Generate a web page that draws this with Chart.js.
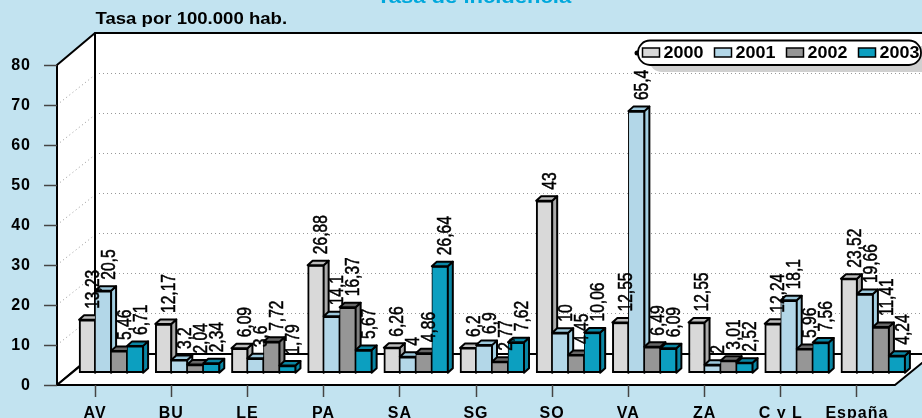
<!DOCTYPE html>
<html lang="es">
<head>
<meta charset="UTF-8">
<title>Tasa de incidencia</title>
<script src="https://cdn.jsdelivr.net/npm/chart.js"></script>
<style>
    html, body { margin: 0; padding: 0; background: #c2e3f0; overflow: hidden; }
    canvas { display: block; }
</style>
</head>
<body>
<canvas id="chart" width="922" height="418"></canvas>
<script>
const categories = ['AV', 'BU', 'LE', 'PA', 'SA', 'SG', 'SO', 'VA', 'ZA', 'C y L', 'España'];
const years = ['2000', '2001', '2002', '2003'];
const values2000 = [13.23, 12.17, 6.09, 26.88, 6.26, 6.2, 43, 12.55, 12.55, 12.24, 23.52];
const values2001 = [20.5, 3.2, 3.6, 14.1, 4, 6.9, 10, 65.4, 2, 18.1, 19.66];
const values2002 = [5.46, 2.04, 7.72, 16.37, 4.86, 2.77, 4.45, 6.49, 3.01, 5.96, 11.41];
const values2003 = [6.71, 2.34, 1.79, 5.67, 26.64, 7.62, 10.06, 6.09, 2.52, 7.56, 4.24];

const frontColors = ['#d9d9d9', '#b3d7e8', '#969696', '#0c9fc0'];
const topColors = ['#bdbdbd', '#9cc8dc', '#666666', '#0a86a4'];
const sideColors = ['#ababab', '#a3cfe2', '#808080', '#0a86a4'];

const FONT = '"Liberation Sans", Arial, sans-serif';
const WALL_DX = 38, WALL_DY = 32;   // fondo del grafico 3D
const BAR_DX = 5, BAR_DY = 4.5;     // profundidad de cada barra
const BAR_SHIFT = 16;               // los grupos no estan centrados en la marca
const BAR_LIFT = 3.07;              // las barras arrancan sobre el suelo, no en el eje

function stretchedText(ctx, text, x, y, font, color, stretch, align) {
    ctx.save();
    ctx.letterSpacing = '0px';
    ctx.font = font;
    ctx.fillStyle = color;
    ctx.textAlign = align || 'left';
    ctx.textBaseline = 'alphabetic';
    ctx.translate(x, y);
    ctx.scale(stretch, 1);
    ctx.fillText(text, 0, 0);
    ctx.restore();
}

function poly(ctx, pts, fill) {
    ctx.beginPath();
    pts.forEach((p, i) => i ? ctx.lineTo(p[0], p[1]) : ctx.moveTo(p[0], p[1]));
    ctx.closePath();
    if (fill) { ctx.fillStyle = fill; ctx.fill(); }
    ctx.stroke();
}

// Paredes, suelo y rejilla punteada
const wallsPlugin = {
    id: 'walls',
    beforeDraw(chart) {
        const ctx = chart.ctx, a = chart.chartArea, y = chart.scales.y;
        ctx.letterSpacing = '1px';
        ctx.save();
        ctx.letterSpacing = '0px';
        ctx.strokeStyle = '#000';
        ctx.lineWidth = 2;
        ctx.lineJoin = 'round';
        const bx = a.left + WALL_DX, by = a.bottom - WALL_DY, ty = a.top - WALL_DY;
        poly(ctx, [[bx, ty], [a.right + WALL_DX, ty], [a.right + WALL_DX, by + 1], [bx, by + 1]], '#fff');
        poly(ctx, [[a.left, a.top], [bx, ty], [bx, by], [a.left, a.bottom]], '#fff');
        poly(ctx, [[a.left, a.bottom], [bx, by + 1], [a.right + WALL_DX, by + 1], [a.right, a.bottom]], '#fff');

        ctx.strokeStyle = '#999';
        ctx.lineWidth = 1;
        ctx.setLineDash([1, 3]);
        y.ticks.forEach(t => {
            if (t.value === 0 || t.value === 80) return;
            const py = Math.round(y.getPixelForValue(t.value)) + 0.5;
            ctx.beginPath();
            ctx.moveTo(a.left + 3, py - 3);
            ctx.lineTo(bx - 2, py - WALL_DY + 3);
            ctx.moveTo(bx + 4, py - WALL_DY);
            ctx.lineTo(925, py - WALL_DY);
            ctx.stroke();
        });
        ctx.restore();

        stretchedText(ctx, 'Tasa de incidencia', 474, 3, 'bold 19px ' + FONT, '#00a8dc', 1.16, 'center');
        stretchedText(ctx, 'Tasa por 100.000 hab.', 95.5, 24, 'bold 16px ' + FONT, '#000', 1.16);
    }
};

// Caras 3D y etiquetas de valor; se pintan de izquierda a derecha
const barsPlugin = {
    id: 'bars3d',
    beforeDatasetsDraw(chart) {
        const ctx = chart.ctx;
        const n = chart.data.datasets.length;
        ctx.save();
        ctx.translate(BAR_SHIFT, 0);
        ctx.strokeStyle = '#000';
        ctx.lineWidth = 2;
        ctx.lineJoin = 'round';
        for (let i = 0; i < n; i++) {
            const meta = chart.getDatasetMeta(i);
            meta.controller.draw();
            meta.data.forEach(bar => {
                const l = bar.x - bar.width / 2, r = bar.x + bar.width / 2, t = bar.y, b = bar.base;
                poly(ctx, [[r, t], [r + BAR_DX, t - BAR_DY], [r + BAR_DX, b - BAR_DY], [r, b]], sideColors[i]);
                poly(ctx, [[l, t], [l + BAR_DX, t - BAR_DY], [r + BAR_DX, t - BAR_DY], [r, t]], topColors[i]);
            });
        }
        ctx.restore();

        ctx.save();
        ctx.letterSpacing = '0px';
        ctx.fillStyle = '#000';
        ctx.strokeStyle = '#000';
        ctx.lineWidth = 0.4;
        ctx.font = '15.6px ' + FONT;
        ctx.textAlign = 'left';
        ctx.textBaseline = 'middle';
        for (let i = 0; i < n; i++) {
            const values = chart.data.datasets[i].data;
            chart.getDatasetMeta(i).data.forEach((bar, j) => {
                const text = String(values[j]).replace('.', ',');
                ctx.save();
                ctx.translate(bar.x + BAR_SHIFT + 6, bar.y - 11);
                ctx.scale(1.3, 1);
                ctx.rotate(-Math.PI / 2);
                ctx.fillText(text, 0, 0);
                ctx.strokeText(text, 0, 0);
                ctx.restore();
            });
        }
        ctx.restore();
        drawLegend(chart);
        return false;
    }
};

function drawLegend(chart) {
    const ctx = chart.ctx;
    ctx.save();
    ctx.letterSpacing = '0px';
    // sombra
    ctx.fillStyle = '#d0d0d0';
    ctx.beginPath();
    ctx.roundRect(649, 46, 300, 26, 13);
    ctx.fill();
    // marco
    ctx.fillStyle = '#000';
    ctx.beginPath();
    ctx.arc(637, 53, 2.5, 0, Math.PI * 2);
    ctx.fill();
    ctx.fillStyle = '#fff';
    ctx.strokeStyle = '#000';
    ctx.lineWidth = 1.8;
    ctx.beginPath();
    ctx.roundRect(638, 40.5, 283, 24.5, 12);
    ctx.fill();
    ctx.stroke();
    ctx.lineWidth = 1.5;
    chart.data.datasets.forEach((ds, i) => {
        const x = 642.5 + i * 72;
        ctx.fillStyle = frontColors[i];
        ctx.fillRect(x, 48, 17, 9);
        ctx.strokeRect(x, 48, 17, 9);
        stretchedText(ctx, ds.label, x + 21, 58, 'bold 16px ' + FONT, '#000', 1.12);
    });
    ctx.restore();
}

new Chart(document.getElementById('chart'), {
    type: 'bar',
    data: {
        labels: categories,
        datasets: [values2000, values2001, values2002, values2003].map((data, i) => ({
            label: years[i],
            data: data,
            yAxisID: 'yBars',
            backgroundColor: frontColors[i],
            borderColor: '#000',
            borderWidth: { left: i === 0 ? 2 : 1, right: 1, top: 2, bottom: 2 },
            borderSkipped: false,
            barThickness: 16,
            clip: false
        }))
    },
    options: {
        responsive: false,
        animation: false,
        layout: { padding: { top: 65, right: 27, left: 0, bottom: 0 } },
        plugins: { legend: { display: false }, tooltip: { enabled: false } },
        scales: {
            x: {
                afterFit(scale) { scale.height = 33; },
                border: { display: false },
                grid: { offset: false, drawOnChartArea: false, tickLength: 12, tickColor: '#444', tickWidth: 1.5 },
                ticks: { color: '#000', font: { family: FONT, size: 16, weight: 'bold' }, padding: 7, autoSkip: false, maxRotation: 0 }
            },
            y: {
                min: 0,
                max: 80,
                afterFit(scale) { scale.width = 57; },
                border: { display: false },
                grid: { drawOnChartArea: false, tickLength: 13, tickColor: '#444', tickWidth: 1.5 },
                ticks: { stepSize: 10, color: '#000', font: { family: FONT, size: 16, weight: 'bold' }, padding: 13, labelOffset: 1 }
            },
            yBars: {
                display: false,
                position: 'left',
                min: -BAR_LIFT,
                max: 80 - BAR_LIFT
            }
        }
    },
    plugins: [wallsPlugin, barsPlugin]
});
</script>
</body>
</html>
